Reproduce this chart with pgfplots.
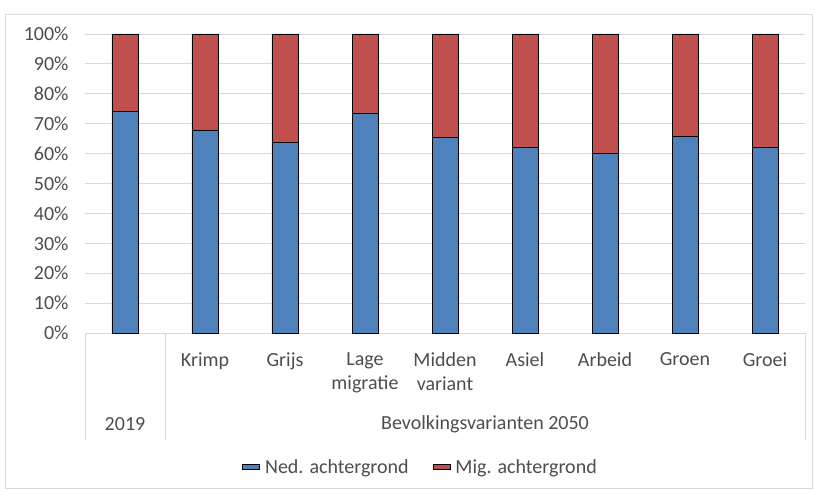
\documentclass[border=0pt]{standalone}
\usepackage{fontspec}
\setmainfont{Carlito}
\usepackage{pgfplots}
\usepackage{pgfplotstable}
\pgfplotsset{compat=1.18}
\definecolor{nedblue}{HTML}{4F81BD}
\definecolor{migred}{HTML}{C0504D}
\definecolor{txtgray}{HTML}{4D4D4D}
\definecolor{gridgray}{HTML}{D9D9D9}

% share of population by background, 2019 and the 2050 variants
\pgfplotstableread{
x  ned   mig
0  74.0  26.0
1  67.6  32.4
2  63.9  36.1
3  73.6  26.4
4  65.3  34.7
5  62.1  37.9
6  60.2  39.8
7  65.6  34.4
8  62.1  37.9
}\shares

\newcommand{\chartfont}{\fontsize{20bp}{24bp}\selectfont}

\begin{document}
\begin{tikzpicture}
\useasboundingbox (-85bp,-159bp) rectangle (730bp,333bp);
\draw[gridgray, line width=0.8bp] (-80bp,-155bp) rectangle (727bp,319bp);
\begin{axis}[
    at={(0,0)}, anchor=south west,
    scale only axis,
    width=720bp, height=299bp,
    ybar stacked,
    bar width=26bp,
    xmin=-0.5, xmax=8.5,
    ymin=0, ymax=100,
    xtick=data,
    xticklabels={,Krimp,Grijs,Lage\\migratie,Midden\\variant,Asiel,Arbeid,Groen,Groei},
    xticklabel style={align=center, anchor=north, yshift=-16bp, font=\chartfont, text=txtgray},
    ytick={0,10,...,100},
    yticklabels={0\%,10\%,20\%,30\%,40\%,50\%,60\%,70\%,80\%,90\%,100\%},
    yticklabel style={font=\chartfont, text=txtgray, xshift=-13bp},
    tick style={draw=none},
    axis line style={draw=none},
    ymajorgrids,
    grid style={gridgray, line width=0.8bp},
    legend style={at={(0.466,-0.448)}, anchor=center, draw=none, fill=none,
        legend columns=2, font=\chartfont, text=txtgray,
        /tikz/every odd column/.append style={column sep=3bp},
        /tikz/every even column/.append style={column sep=22bp}},
    legend cell align=left,
    area legend,
    clip=false,
]
\addplot[fill=nedblue, draw=black, line width=0.8bp] table[x=x, y=ned]{\shares};
\addplot[fill=migred, draw=black, line width=0.8bp] table[x=x, y=mig]{\shares};
\legend{Ned. achtergrond, Mig. achtergrond}

\draw[gridgray, line width=0.8bp] (axis cs:-0.5,0) -- (axis cs:8.5,0);
\draw[gridgray, line width=0.8bp] (axis cs:-0.5,0) -- ++(0bp,-107bp);
\draw[gridgray, line width=0.8bp] (axis cs:0.5,0) -- ++(0bp,-107bp);
\draw[gridgray, line width=0.8bp] (axis cs:8.5,0) -- ++(0bp,-107bp);
\node[font=\chartfont, text=txtgray] at ([yshift=-91bp]axis cs:0,0) {2019};
\node[font=\chartfont, text=txtgray] at ([yshift=-91bp]axis cs:4.5,0) {Bevolkingsvarianten 2050};
\end{axis}
\end{tikzpicture}
\end{document}
